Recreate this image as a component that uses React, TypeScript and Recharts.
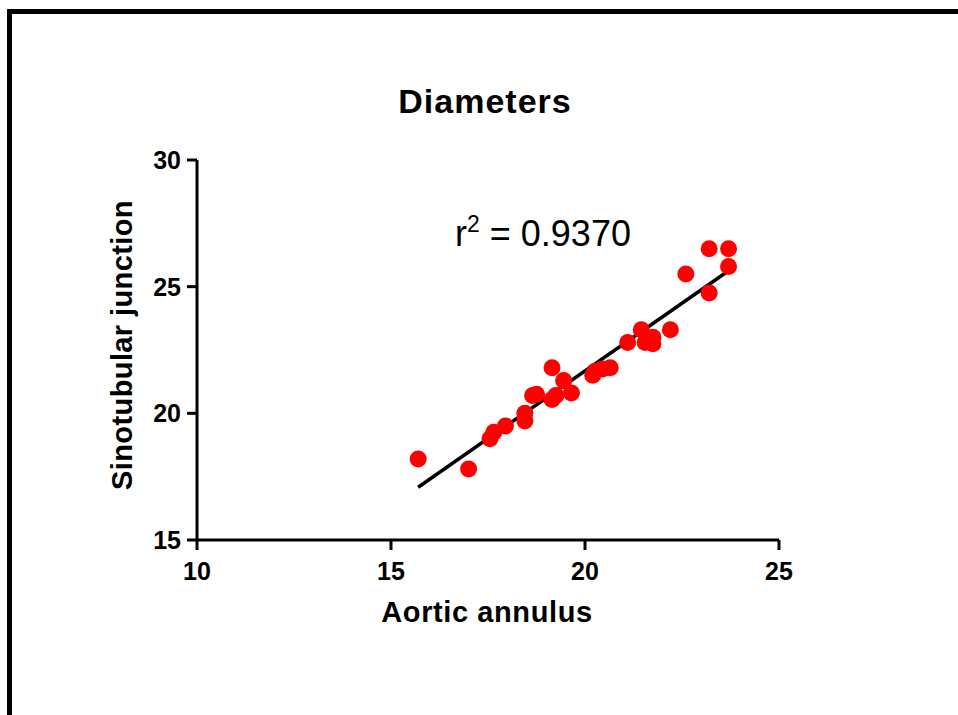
import { ScatterChart, Scatter, XAxis, YAxis } from "recharts";

// diameters (mm)
const annulus = [
  15.7, 17.0, 17.55, 17.65, 17.95, 18.45, 18.45, 18.65, 18.75, 19.15,
  19.15, 19.25, 19.45, 19.65, 20.2, 20.25, 20.45, 20.65, 21.1, 21.45,
  21.55, 21.75, 21.75, 22.2, 22.6, 23.2, 23.2, 23.7, 23.7,
];
const junction = [
  18.2, 17.8, 19.0, 19.25, 19.5, 20.0, 19.7, 20.7, 20.75, 21.8,
  20.55, 20.7, 21.3, 20.8, 21.5, 21.65, 21.75, 21.8, 22.8, 23.3,
  22.8, 23.0, 22.75, 23.3, 25.5, 24.75, 26.5, 26.5, 25.8,
];

// regression line endpoints
const fitX = [15.7, 23.7];
const fitY = [17.08, 25.63];

const xTicks = [10, 15, 20, 25];
const yTicks = [15, 20, 25, 30];

const points = annulus.map((x, i) => ({ x, y: junction[i] }));
const fitLine = fitX.map((x, i) => ({ x, y: fitY[i] }));

const FONT = "'Liberation Sans', Arial, sans-serif";
const tickStyle = { fill: "#000", fontSize: 25, fontWeight: 700, fontFamily: FONT };

const Dot = (props: any) => <circle cx={props.cx} cy={props.cy} r={8.5} fill="#ff0000" />;

export default function App() {
  return (
    <div
      style={{
        position: "fixed",
        left: 0,
        top: 0,
        width: 958,
        height: 715,
        overflow: "hidden",
        background: "#fff",
      }}
    >
      <div
        style={{
          position: "absolute",
          left: 7,
          top: 9,
          width: 1000,
          height: 800,
          borderTop: "5px solid #000",
          borderLeft: "5px solid #000",
        }}
      />
      <div style={{ position: "absolute", left: 0, top: 0 }}>
        <ScatterChart width={958} height={715} margin={{ top: 160, right: 179, left: 137, bottom: 115 }}>
          <XAxis
            type="number"
            dataKey="x"
            domain={[10, 25]}
            ticks={xTicks}
            height={60}
            axisLine={{ stroke: "#000", strokeWidth: 3 }}
            tickLine={{ stroke: "#000", strokeWidth: 3 }}
            tickSize={10}
            tickMargin={12}
            tick={tickStyle}
            label={{
              content: (p: any) => (
                <text
                  x={p.viewBox.x + p.viewBox.width / 2 - 1}
                  y={622}
                  textAnchor="middle"
                  fontFamily={FONT}
                  fontWeight={700}
                  fontSize={29}
                  letterSpacing={0.6}
                  fill="#000"
                >
                  Aortic annulus
                </text>
              ),
            }}
          />
          <YAxis
            type="number"
            dataKey="y"
            domain={[15, 30]}
            ticks={yTicks}
            width={60}
            axisLine={{ stroke: "#000", strokeWidth: 3 }}
            tickLine={{ stroke: "#000", strokeWidth: 3 }}
            tickSize={10}
            tickMargin={6}
            tick={tickStyle}
            label={{
              content: () => (
                <text
                  x={122}
                  y={345}
                  transform="rotate(-90 122 345)"
                  textAnchor="middle"
                  dominantBaseline="central"
                  fontFamily={FONT}
                  fontWeight={700}
                  fontSize={29}
                  letterSpacing={0.4}
                  fill="#000"
                >
                  Sinotubular junction
                </text>
              ),
            }}
          />
          <Scatter
            data={fitLine}
            line={{ stroke: "#000", strokeWidth: 3.5 }}
            shape={() => <g />}
            isAnimationActive={false}
          />
          <Scatter data={points} shape={Dot} isAnimationActive={false} />
        </ScatterChart>
      </div>
      <svg width={958} height={715} style={{ position: "absolute", left: 0, top: 0, pointerEvents: "none" }}>
        <text
          x={485}
          y={113}
          textAnchor="middle"
          fontFamily={FONT}
          fontWeight={700}
          fontSize={34}
          letterSpacing={1}
          fill="#000"
        >
          Diameters
        </text>
        <text x={455} y={246} fontFamily={FONT} fontSize={36} fill="#000">
          r<tspan fontSize={23} dy={-14}>2</tspan>
          <tspan dy={14}> = 0.9370</tspan>
        </text>
      </svg>
    </div>
  );
}
